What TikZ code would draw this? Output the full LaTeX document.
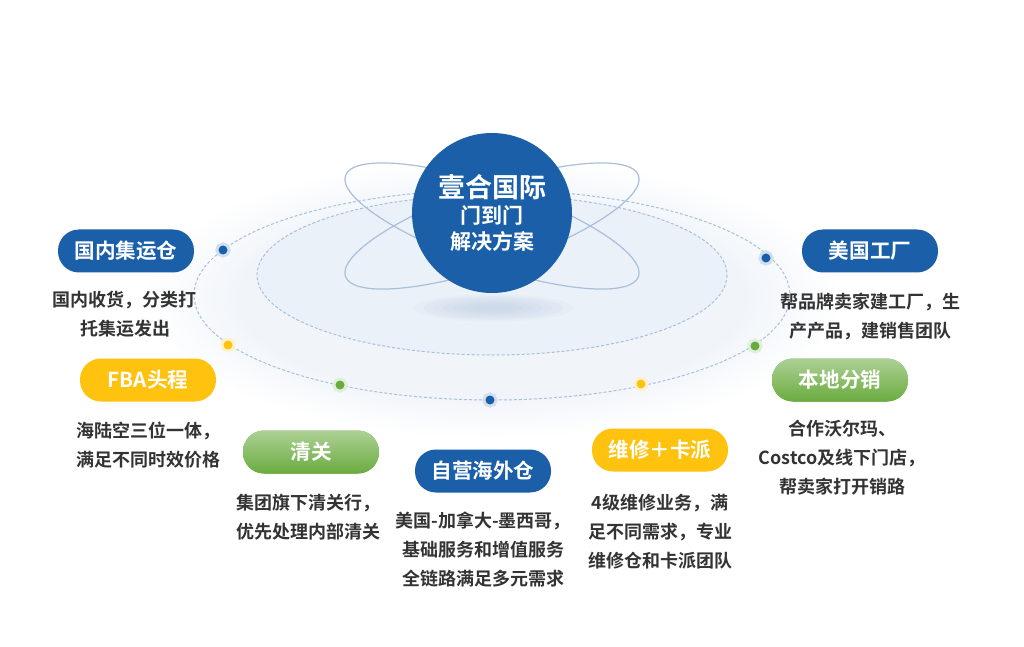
\documentclass[tikz,border=0pt]{standalone}
\usepackage{fontspec}
\setmainfont{Noto Sans CJK SC}[BoldFont={Noto Sans CJK SC Bold}]
\definecolor{hqblue}{HTML}{1A5FA8}
\definecolor{hqyellow}{HTML}{FFC20E}
\definecolor{hqgreen}{HTML}{6AAB3F}
\definecolor{hqtext}{HTML}{333333}
\definecolor{hqline}{HTML}{A9BFDC}
\definecolor{hqdisk}{HTML}{F1F5FA}
\definecolor{hqinner}{HTML}{E8EFF8}
\definecolor{hqshadow}{HTML}{B9CBE3}
\pgfdeclareradialshading{diskglow}{\pgfpoint{0bp}{0bp}}{color(0bp)=(hqdisk); color(18bp)=(hqdisk); color(25bp)=(white); color(50bp)=(white)}

\begin{document}
\begin{tikzpicture}[
        x=0.5pt, y=-0.5pt,
        tag/.style = {rounded corners=10.5pt, minimum width=68pt, minimum height=21.5pt,
                      inner sep=0pt, text=white, font=\bfseries\fontsize{10.3}{12}\selectfont, fill=#1},
        greentag/.style = {tag=hqgreen, top color=hqgreen!55!white, bottom color=hqgreen},
        note/.style = {align=center, text=hqtext, font=\bfseries\fontsize{9}{14.5}\selectfont},
        dot/.style = {circle, fill=#1, inner sep=0pt, minimum size=4.5pt, node contents={},
                      preaction={draw=#1!20, line width=3pt}},
        orbit/.style = {draw=hqline, line width=0.6pt},
        track/.style = {draw=hqline, dashed, dash pattern=on 1.5pt off 1pt, line width=0.5pt}
        ]

        \useasboundingbox (0,0) rectangle (1024,647);

        \shade[shading=diskglow] (492,298) ellipse [x radius=350, y radius=140];
        \fill[hqinner, opacity=0.6] (492,275) ellipse [x radius=235, y radius=80];
        \draw[track] (492,275) ellipse [x radius=235, y radius=80];
        \draw[track] (492,295) ellipse [x radius=298, y radius=105];
        \foreach \r in {80,70,...,20}
            \fill[hqshadow, opacity=0.1] (493,308) ellipse [x radius=\r, y radius=0.17*\r];

        \draw[orbit, rotate around={19:(492,226)}] (492,226) ellipse [x radius=155, y radius=40];
        \draw[orbit, rotate around={-19:(492,226)}] (492,226) ellipse [x radius=155, y radius=40];

        \node (hub) at (492,213) [circle, fill=hqblue, minimum size=80pt, inner sep=0pt,
            text=white, align=center, font=\bfseries\fontsize{10.5}{13}\selectfont]
            {{\fontsize{13.5}{17}\selectfont 壹合国际}\\门到门\\解决方案};

        \node (d1) at (223,250) [dot=hqblue];
        \node (d2) at (228,345) [dot=hqyellow];
        \node (d3) at (340,385) [dot=hqgreen];
        \node (d4) at (490,400) [dot=hqblue];
        \node (d5) at (641,384) [dot=hqyellow];
        \node (d6) at (755,346) [dot=hqgreen];
        \node (d7) at (766,258) [dot=hqblue];

        \node (cn) at (126,251) [tag=hqblue] {国内集运仓};
        \node (cnNote) at (125,314) [note] {国内收货，分类打\\托集运发出};

        \node (fba) at (148,380) [tag=hqyellow] {FBA头程};
        \node (fbaNote) at (148,445) [note] {海陆空三位一体，\\满足不同时效价格};

        \node (customs) at (311,452) [greentag] {清关};
        \node (customsNote) at (308,517) [note] {集团旗下清关行，\\优先处理内部清关};

        \node (wh) at (483,471) [tag=hqblue] {自营海外仓};
        \node (whNote) at (483,550) [note] {美国-加拿大-墨西哥，\\基础服务和增值服务\\全链路满足多元需求};

        \node (repair) at (660,450) [tag=hqyellow] {维修＋卡派};
        \node (repairNote) at (660,532) [note] {4级维修业务，满\\足不同需求，专业\\维修仓和卡派团队};

        \node (us) at (870,251) [tag=hqblue] {美国工厂};
        \node (usNote) at (870,317) [note] {帮品牌卖家建工厂，生\\产产品，建销售团队};

        \node (dist) at (840,380) [greentag] {本地分销};
        \node (distNote) at (842,458) [note] {合作沃尔玛、\\Costco及线下门店，\\帮卖家打开销路};
    \end{tikzpicture}
\end{document}
